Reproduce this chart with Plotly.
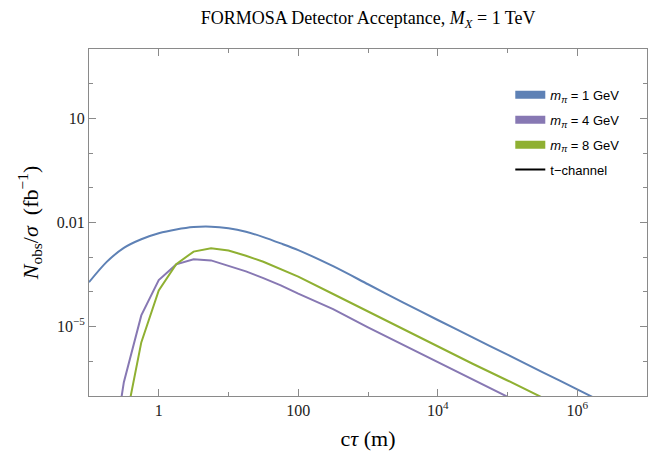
import plotly.graph_objects as go

# c*tau values (m), sampled at quarter decades up to 100 m, then half decades
ctau = [0.1, 0.178, 0.316, 0.562, 1, 1.78, 3.16, 5.62, 10, 17.8, 31.6, 56.2,
        100, 316, 1000, 3160, 1e4, 3.16e4, 1e5, 3.16e5, 1e6, 3.16e6, 1e7]

# N_obs / sigma (fb^-1)
m1_gev = [1.9e-4, 7.2e-4, 1.86e-3, 3.3e-3, 4.9e-3, 6.3e-3, 7.4e-3, 7.6e-3, 6.8e-3,
          5.4e-3, 3.8e-3, 2.5e-3, 1.6e-3, 5.5e-4, 1.66e-4, 5.0e-5, 1.55e-5, 4.9e-6,
          1.55e-6, 4.9e-7, 1.55e-7, 4.9e-8, 1.55e-8]
m4_gev = [None, 1.6e-10, 2.5e-7, 2.1e-5, 2.2e-4, 6.2e-4, 8.7e-4, 8.1e-4, 5.75e-4,
          3.9e-4, 2.5e-4, 1.55e-4, 8.9e-5, 3.2e-5, 9.5e-6, 3.0e-6, 9.1e-7, 3.0e-7,
          9.3e-8, 3.0e-8, 9.5e-9, 3.0e-9, 9.5e-10]
m8_gev = [None, None, 1.0e-8, 3.5e-6, 1.1e-4, 6.3e-4, 1.45e-3, 1.8e-3, 1.55e-3,
          1.1e-3, 7.4e-4, 4.5e-4, 2.75e-4, 8.7e-5, 2.7e-5, 8.5e-6, 2.6e-6, 8.5e-7,
          2.8e-7, 9.3e-8, 3.0e-8, 9.5e-9, 3.0e-9]

series_names = ["<i>m</i><sub><i>π</i></sub> = 1 GeV",
                "<i>m</i><sub><i>π</i></sub> = 4 GeV",
                "<i>m</i><sub><i>π</i></sub> = 8 GeV"]
series_values = [m1_gev, m4_gev, m8_gev]
series_colors = ["#5E81B5", "#8778B3", "#8FB032"]
series_shapes = ["spline", "linear", "linear"]

x_tickvals = [1, 100, 1e4, 1e6]
x_ticktext = ["1", "100", "10<sup>4</sup>", "10<sup>6</sup>"]
x_minor = [0.1, 10, 1000, 1e5, 1e7]
y_tickvals = [10, 0.01, 1e-5]
y_ticktext = ["10", "0.01", "10<sup>−5</sup>"]
y_minor = [1000, 100, 1, 0.1, 1e-3, 1e-4, 1e-6, 1e-7]

serif = "Liberation Serif, Times New Roman, serif"
sans = "Liberation Sans, Arial, sans-serif"
frame = "#8a8a8a"

fig = go.Figure()
for name, vals, col, shp in zip(series_names, series_values, series_colors, series_shapes):
    fig.add_trace(go.Scatter(x=ctau, y=vals, mode="lines", showlegend=False,
                             line=dict(color=col, width=2, shape=shp, smoothing=0.8),
                             connectgaps=False))
# legend swatches
for i, (name, col) in enumerate(zip(series_names, series_colors)):
    fig.add_trace(go.Scatter(x=[None], y=[None], mode="lines", name=name,
                             legendgroup=f"g{i}",
                             line=dict(color=col, width=8)))
fig.add_trace(go.Scatter(x=[None], y=[None], mode="lines", name="t−channel",
                         legendgroup="g3", line=dict(color="black", width=2)))

axis_common = dict(type="log", showgrid=False, zeroline=False, showline=True,
                   linecolor=frame, linewidth=1, mirror="ticks", ticks="inside",
                   ticklen=7, tickcolor=frame, tickwidth=1,
                   tickfont=dict(family=serif, size=16, color="#222"))

fig.update_layout(
    width=654, height=460,
    margin=dict(l=89, r=7, t=49, b=64),
    paper_bgcolor="white", plot_bgcolor="white",
    title=dict(text="FORMOSA Detector Acceptance, <i>M</i><sub><i>X</i></sub> = 1 TeV",
               x=0.563, xanchor="center", y=0.962, yanchor="middle",
               font=dict(family=serif, size=18, color="black")),
    xaxis=dict(range=[-1, 7], tickmode="array", tickvals=x_tickvals, ticktext=x_ticktext,
               minor=dict(tickvals=x_minor, ticks="inside", ticklen=4, tickcolor=frame),
               title=dict(text="c<i>τ</i> (m)", standoff=12,
                          font=dict(family=serif, size=22, color="black")),
               **axis_common),
    yaxis=dict(range=[-7, 3], tickmode="array", tickvals=y_tickvals, ticktext=y_ticktext,
               minor=dict(tickvals=y_minor, ticks="inside", ticklen=4, tickcolor=frame),
               title=dict(text="<i>N</i><sub>obs</sub>/<i>σ</i>  (fb<sup>−1</sup>)", standoff=12,
                          font=dict(family=serif, size=22, color="black")),
               **axis_common),
    legend=dict(x=0.755, y=0.911, xanchor="left", yanchor="top",
                bgcolor="rgba(0,0,0,0)", tracegroupgap=5, traceorder="grouped",
                font=dict(family=sans, size=13, color="black")),
)

fig.write_html("out.html", config={"displayModeBar": False},
               post_script="document.body.style.margin='0';")
